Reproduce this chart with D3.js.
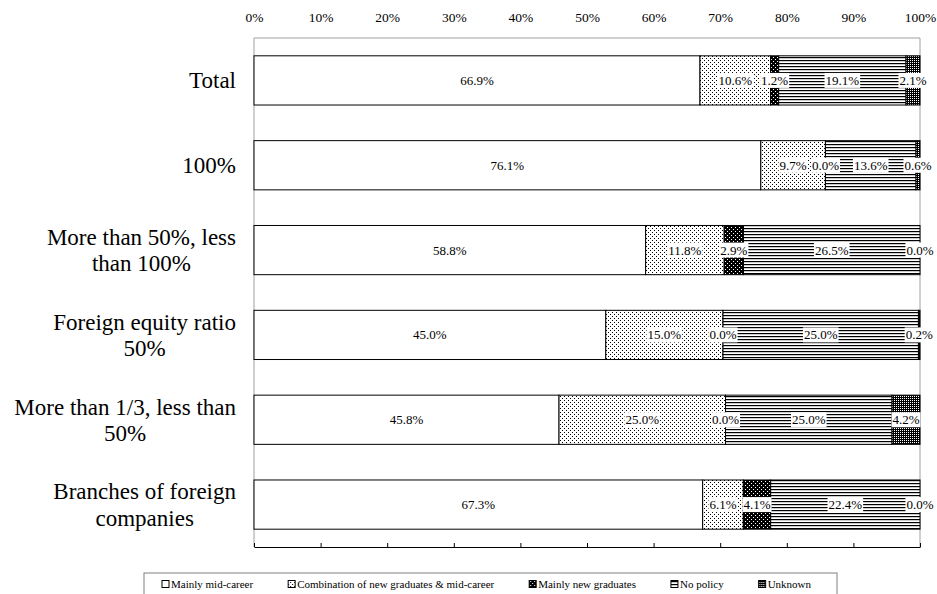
<!DOCTYPE html>
<html>
<head>
<meta charset="utf-8">
<script src="https://cdn.jsdelivr.net/npm/d3@7/dist/d3.min.js"></script>
<style>
  html, body { margin: 0; padding: 0; background: #fff; }
  svg { display: block; font-family: "Liberation Serif", "Times New Roman", serif; }
  svg text { font-family: "Liberation Serif", "Times New Roman", serif; }
</style>
</head>
<body>
<svg id="chart" width="937" height="594"></svg>
<script>
// Hiring policy by foreign equity ratio (percent of respondents)
const categories = [
  "Total",
  "100%",
  "More than 50%, less\nthan 100%",
  "Foreign equity ratio\n50%",
  "More than 1/3, less than\n50%",
  "Branches of foreign\ncompanies"
];
const seriesNames = [
  "Mainly mid-career",
  "Combination of new graduates & mid-career",
  "Mainly new graduates",
  "No policy",
  "Unknown"
];
const midCareer   = [66.9, 76.1, 58.8, 45.0, 45.8, 67.3];
const combination = [10.6,  9.7, 11.8, 15.0, 25.0,  6.1];
const newGrads    = [ 1.2,  0.0,  2.9,  0.0,  0.0,  4.1];
const noPolicy    = [19.1, 13.6, 26.5, 25.0, 25.0, 22.4];
const unknown     = [ 2.1,  0.6,  0.0,  0.2,  4.2,  0.0];
const axisTicks   = [0, 0.1, 0.2, 0.3, 0.4, 0.5, 0.6, 0.7, 0.8, 0.9, 1.0];

const seriesValues = [midCareer, combination, newGrads, noPolicy, unknown];
const keys = seriesNames;
const rows = categories.map((c, i) => {
  const r = { category: c };
  keys.forEach((k, j) => { r[k] = seriesValues[j][i]; });
  return r;
});

const FONT = "Liberation Serif, Times New Roman, serif";
const svg = d3.select("#chart");
const plotLeft = 254, plotRight = 920, plotTop = 38, plotBottom = 547;

const x = d3.scaleLinear().domain([0, 1]).range([plotLeft, plotRight]);
const y = d3.scaleBand().domain(categories).range([plotTop, plotBottom])
  .paddingInner(0.42).paddingOuter(0.21);

// Fill patterns for each series
const defs = svg.append("defs");
function pattern(id, w, h, bg, dots, dotColor) {
  const p = defs.append("pattern").attr("id", id)
    .attr("patternUnits", "userSpaceOnUse").attr("width", w).attr("height", h);
  p.append("rect").attr("width", w).attr("height", h).attr("fill", bg);
  dots.forEach(([dx, dy, dw, dh]) => {
    p.append("rect").attr("x", dx).attr("y", dy).attr("width", dw).attr("height", dh).attr("fill", dotColor);
  });
  return `url(#${id})`;
}
const fills = [
  "#ffffff",
  pattern("pCombo", 4, 4, "#ffffff", [[0, 0, 1, 1], [2, 2, 1, 1]], "#000"),
  pattern("pNew", 4, 4, "#000000", [[1, 1, 1, 1], [3, 3, 1, 1]], "#fff"),
  pattern("pNone", 4, 3, "#ffffff", [[0, 0, 4, 1.2]], "#000"),
  pattern("pUnk", 2, 2, "#000000", [[0, 0, 1, 1]], "#fff")
];
const color = d3.scaleOrdinal().domain(keys).range(fills);

// Plot frame
svg.append("line").attr("x1", x(0)).attr("x2", x(1)).attr("y1", plotTop).attr("y2", plotTop)
  .attr("stroke", "#a0a0a0").attr("stroke-width", 1);
svg.append("line").attr("x1", x(1)).attr("x2", x(1)).attr("y1", plotTop).attr("y2", plotBottom)
  .attr("stroke", "#a0a0a0").attr("stroke-width", 1);
svg.append("line").attr("x1", x(0)).attr("x2", x(0)).attr("y1", plotTop).attr("y2", plotBottom)
  .attr("stroke", "#a0a0a0").attr("stroke-width", 1);

// Top percentage labels
const topAxis = svg.append("g").attr("transform", `translate(0,22)`)
  .call(d3.axisTop(x).tickValues(axisTicks).tickSize(0).tickPadding(0)
    .tickFormat(d3.format(".0%")));
topAxis.attr("font-family", FONT);
topAxis.select(".domain").remove();
topAxis.selectAll("text").attr("font-size", 13.5).attr("fill", "#000")
  .attr("font-family", FONT).attr("dy", "0");

// Bottom axis with upward ticks
const botAxis = svg.append("g").attr("transform", `translate(0,${plotBottom})`)
  .call(d3.axisBottom(x).tickValues(axisTicks).tickSize(-4).tickSizeOuter(0).tickFormat(""));
botAxis.selectAll("path, line").attr("stroke", "#000").attr("stroke-width", 1);

// Stacked, normalised bars
const stack = d3.stack().keys(keys).offset(d3.stackOffsetExpand);
const layers = stack(rows);

const layerG = svg.append("g").selectAll("g").data(layers).join("g")
  .attr("fill", d => color(d.key));
layerG.selectAll("rect").data(d => d).join("rect")
  .attr("x", d => x(d[0]))
  .attr("y", d => y(d.data.category))
  .attr("width", d => Math.max(0, x(d[1]) - x(d[0])))
  .attr("height", y.bandwidth())
  .attr("stroke", "#000").attr("stroke-width", 1);

// Value labels with white backing
const labelData = [];
layers.forEach(layer => {
  layer.forEach(d => {
    labelData.push({
      cx: (x(d[0]) + x(d[1])) / 2,
      cy: y(d.data.category) + y.bandwidth() / 2,
      text: d3.format(".1f")(d.data[layer.key]) + "%"
    });
  });
});
const lab = svg.append("g").selectAll("g").data(labelData).join("g")
  .attr("transform", d => `translate(${d.cx},${d.cy})`);
lab.append("text").attr("text-anchor", "middle").attr("dy", "0.35em")
  .attr("font-family", FONT).attr("font-size", 13).attr("fill", "#000").text(d => d.text);
lab.each(function () {
  const g = d3.select(this);
  const w = g.select("text").node().getComputedTextLength();
  g.insert("rect", "text").attr("x", -w / 2 - 1).attr("y", -7.5)
    .attr("width", w + 2).attr("height", 15).attr("fill", "#fff");
});

// Category labels (multi-line, lines centred within a right-aligned block)
const labelRight = 236, lineH = 26.5;
const catG = svg.append("g").attr("font-family", FONT).attr("font-size", 23).attr("fill", "#000");
categories.forEach(c => {
  const lines = c.split("\n");
  const cy = y(c) + y.bandwidth() / 2;
  const t = catG.append("text").attr("text-anchor", "middle");
  lines.forEach((ln, i) => {
    t.append("tspan").text(ln)
      .attr("y", cy - (lines.length - 1) * lineH / 2 + i * lineH)
      .attr("dy", "0.35em");
  });
  let maxW = 0;
  t.selectAll("tspan").each(function () { maxW = Math.max(maxW, this.getComputedTextLength()); });
  t.selectAll("tspan").attr("x", labelRight - maxW / 2);
});

// Legend
const legend = svg.append("g").attr("font-family", FONT);
legend.append("rect").attr("x", 144).attr("y", 573).attr("width", 693).attr("height", 40)
  .attr("fill", "#fff").attr("stroke", "#808080").attr("stroke-width", 1);
let lx = 162;
keys.forEach(k => {
  const item = legend.append("g").attr("transform", `translate(${lx},584)`);
  item.append("rect").attr("x", 0).attr("y", -3.5).attr("width", 7).attr("height", 7)
    .attr("fill", color(k)).attr("stroke", "#000").attr("stroke-width", 1);
  const t = item.append("text").attr("x", 9).attr("dy", "0.35em")
    .attr("font-size", 11).attr("fill", "#000").text(k);
  lx += 9 + t.node().getComputedTextLength() + 35;
});
</script>
</body>
</html>
